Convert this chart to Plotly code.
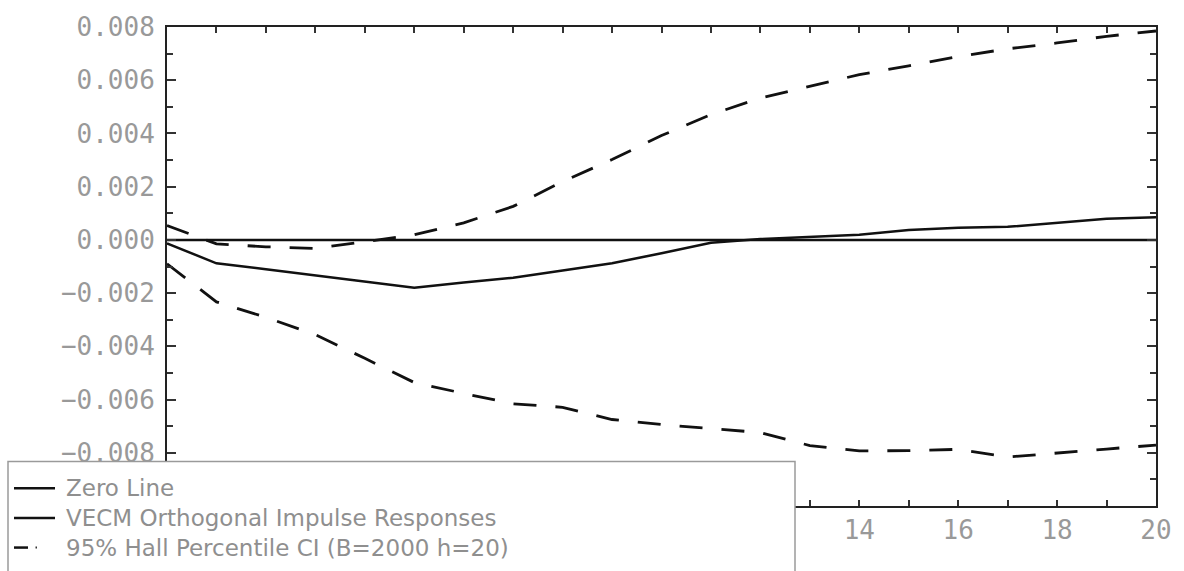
import plotly.graph_objects as go

horizon = list(range(0, 21))
zero_line = [0.0] * 21
irf = [-0.00013, -0.00088, -0.00110, -0.00134, -0.00156, -0.00180, -0.00160,
       -0.00142, -0.00115, -0.00088, -0.00050, -0.00011, 0.00003, 0.00010,
       0.00019, 0.00037, 0.00046, 0.00049, 0.00064, 0.00079, 0.00085]
ci_upper = [0.00054, -0.00015, -0.00026, -0.00032, -0.00007, 0.00019, 0.00064,
            0.00126, 0.00219, 0.00302, 0.00392, 0.00471, 0.00533, 0.00576,
            0.00621, 0.00654, 0.00689, 0.00718, 0.00740, 0.00765, 0.00785]
ci_lower = [-0.00090, -0.00233, -0.00291, -0.00356, -0.00445, -0.00536, -0.00577,
            -0.00616, -0.00629, -0.00675, -0.00694, -0.00708, -0.00724, -0.00773,
            -0.00793, -0.00792, -0.00787, -0.00816, -0.00802, -0.00786, -0.00771]
x_ticks = [14, 16, 18, 20]
y_ticks = [-0.008, -0.006, -0.004, -0.002, 0.0, 0.002, 0.004, 0.006, 0.008]
legend_labels = ["Zero Line", "VECM Orthogonal Impulse Responses",
                 "95% Hall Percentile CI (B=2000 h=20)"]

W, H = 1184, 571
L, R, T, B = 167, 28, 22, 65
PW, PH = W - L - R, H - T - B


def px(x):
    return (x - L) / PW


def py(y):
    return (H - B - y) / PH


fig = go.Figure()
fig.add_trace(go.Scatter(x=horizon, y=zero_line, mode="lines",
                         line=dict(color="#111", width=2.5), showlegend=False))
fig.add_trace(go.Scatter(x=horizon, y=irf, mode="lines",
                         line=dict(color="#111", width=2.5), showlegend=False))
for ci in (ci_upper, ci_lower):
    fig.add_trace(go.Scatter(x=horizon, y=ci, mode="lines",
                             line=dict(color="#111", width=2.8, dash="23px,19px"),
                             showlegend=False))

tick_font = dict(family="DejaVu Sans Mono", size=26, color="#999999")

fig.update_xaxes(range=[0, 20], tickmode="array", tickvals=x_ticks,
                 ticks="inside", ticklen=6, tickwidth=1.5, tickcolor="#333",
                 minor=dict(dtick=1, tick0=0, ticks="inside", ticklen=6,
                            tickwidth=1.5, tickcolor="#333"),
                 showline=True, linecolor="#222", linewidth=2, mirror="ticks",
                 showgrid=False, zeroline=False, tickfont=tick_font,
                 ticklabelstandoff=0)
fig.update_yaxes(range=[-0.01, 0.008], tickmode="array", tickvals=y_ticks,
                 tickformat=".3f",
                 ticks="inside", ticklen=9, tickwidth=1.5, tickcolor="#333",
                 minor=dict(dtick=0.001, tick0=0, ticks="inside", ticklen=6,
                            tickwidth=1.5, tickcolor="#333"),
                 showline=True, linecolor="#222", linewidth=2, mirror="ticks",
                 showgrid=False, zeroline=False, tickfont=tick_font,
                 ticklabelstandoff=5)

shapes = [
    dict(type="rect", xref="paper", yref="paper", x0=px(8), x1=px(795),
         y0=py(461), y1=py(590), fillcolor="white",
         line=dict(color="#9a9a9a", width=1.5), layer="above"),
]
rows = [488, 518, 548]
for yy in rows[:2]:
    shapes.append(dict(type="line", xref="paper", yref="paper",
                       x0=px(14), x1=px(55), y0=py(yy), y1=py(yy),
                       line=dict(color="#111", width=2.5), layer="above"))
shapes.append(dict(type="line", xref="paper", yref="paper",
                   x0=px(14), x1=px(28), y0=py(rows[2]), y1=py(rows[2]),
                   line=dict(color="#111", width=2.5), layer="above"))
shapes.append(dict(type="line", xref="paper", yref="paper",
                   x0=px(35.5), x1=px(37), y0=py(rows[2]), y1=py(rows[2]),
                   line=dict(color="#333", width=2), layer="above"))

annotations = []
for lab, yy in zip(legend_labels, rows):
    annotations.append(dict(text=lab, xref="paper", yref="paper", x=px(64), y=py(yy),
                            xanchor="left", yanchor="middle", showarrow=False,
                            font=dict(family="DejaVu Sans", size=23, color="#8f8f8f")))

fig.update_layout(width=W, height=H, margin=dict(l=L, r=R, t=T, b=B),
                  plot_bgcolor="white", paper_bgcolor="white",
                  shapes=shapes, annotations=annotations, showlegend=False)

fig.write_html("out.html", config={"displayModeBar": False},
               post_script="document.body.style.margin='0';document.body.style.overflow='hidden';")
